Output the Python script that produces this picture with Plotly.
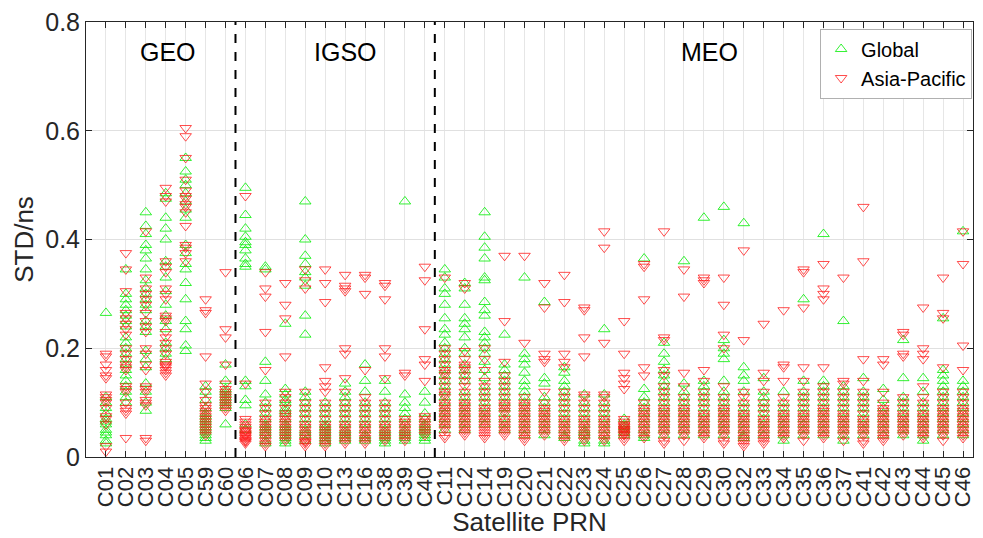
import plotly.graph_objects as go

categories = ["C01", "C02", "C03", "C04", "C05", "C59", "C60",
              "C06", "C07", "C08", "C09", "C10", "C13", "C16", "C38", "C39", "C40",
              "C11", "C12", "C14", "C19", "C20", "C21", "C22", "C23", "C24", "C25",
              "C26", "C27", "C28", "C29", "C30", "C32", "C33", "C34", "C35", "C36",
              "C37", "C41", "C42", "C43", "C44", "C45", "C46"]

global_std = [
    [0.265, 0.11, 0.10, 0.09, 0.08, 0.07, 0.065, 0.06, 0.05, 0.045, 0.04, 0.03, 0.025],  # C01
    [0.345, 0.3, 0.29, 0.28, 0.27, 0.26, 0.25, 0.24, 0.22, 0.21, 0.2, 0.19, 0.18, 0.17, 0.16, 0.15, 0.14, 0.13, 0.12, 0.11, 0.1],  # C02
    [0.45, 0.425, 0.41, 0.39, 0.38, 0.365, 0.345, 0.325, 0.31, 0.3, 0.29, 0.28, 0.27, 0.25, 0.24, 0.23, 0.195, 0.18, 0.165, 0.135, 0.12, 0.1, 0.085],  # C03
    [0.485, 0.475, 0.44, 0.42, 0.4, 0.36, 0.35, 0.33, 0.305, 0.28, 0.26, 0.25, 0.235, 0.21, 0.2, 0.19, 0.18],  # C04
    [0.55, 0.525, 0.51, 0.5, 0.485, 0.47, 0.455, 0.44, 0.39, 0.375, 0.355, 0.345, 0.32, 0.29, 0.25, 0.235, 0.205, 0.195],  # C05
    [0.13, 0.12, 0.105, 0.09, 0.08, 0.075, 0.07, 0.065, 0.06, 0.055, 0.05, 0.045, 0.04, 0.035, 0.03],  # C59
    [0.17, 0.14, 0.125, 0.12, 0.115, 0.11, 0.105, 0.1, 0.095, 0.09, 0.06],  # C60
    [0.495, 0.445, 0.42, 0.405, 0.395, 0.39, 0.38, 0.365, 0.355, 0.35, 0.14, 0.13, 0.105, 0.095, 0.06, 0.05],  # C06
    [0.35, 0.345, 0.175, 0.14, 0.115, 0.1, 0.09, 0.08, 0.07, 0.06, 0.055, 0.05, 0.045, 0.04, 0.03, 0.025],  # C07
    [0.245, 0.125, 0.115, 0.105, 0.1, 0.09, 0.085, 0.08, 0.07, 0.06, 0.055, 0.05, 0.045, 0.04, 0.035, 0.03, 0.025],  # C08
    [0.47, 0.4, 0.37, 0.355, 0.34, 0.33, 0.315, 0.26, 0.225, 0.12, 0.11, 0.1, 0.09, 0.08, 0.07, 0.06, 0.05, 0.045, 0.04, 0.03],  # C09
    [0.1, 0.09, 0.08, 0.07, 0.06, 0.055, 0.05, 0.045, 0.04, 0.035, 0.03, 0.025],  # C10
    [0.135, 0.12, 0.11, 0.1, 0.09, 0.08, 0.07, 0.06, 0.05, 0.045, 0.04, 0.035, 0.03],  # C13
    [0.17, 0.14, 0.12, 0.1, 0.09, 0.08, 0.07, 0.06, 0.05, 0.04, 0.035, 0.03],  # C16
    [0.14, 0.12, 0.1, 0.09, 0.08, 0.07, 0.06, 0.05, 0.045, 0.04, 0.035, 0.03, 0.025],  # C38
    [0.47, 0.115, 0.1, 0.09, 0.08, 0.07, 0.06, 0.05, 0.045, 0.04, 0.035, 0.03],  # C39
    [0.12, 0.1, 0.08, 0.07, 0.06, 0.055, 0.05, 0.045, 0.04, 0.035, 0.03],  # C40
    [0.345, 0.33, 0.31, 0.3, 0.28, 0.255, 0.235, 0.225, 0.21, 0.2, 0.19, 0.18, 0.17, 0.16, 0.15, 0.14, 0.13, 0.12, 0.11, 0.1, 0.09, 0.08, 0.07, 0.06, 0.05],  # C11
    [0.32, 0.31, 0.28, 0.255, 0.245, 0.235, 0.22, 0.2, 0.19, 0.17, 0.16, 0.15, 0.14, 0.12, 0.11, 0.1, 0.09, 0.08, 0.07, 0.06, 0.05],  # C12
    [0.45, 0.405, 0.385, 0.365, 0.33, 0.325, 0.285, 0.27, 0.26, 0.23, 0.22, 0.21, 0.2, 0.19, 0.175, 0.16, 0.145, 0.13, 0.12, 0.11, 0.1, 0.09, 0.08, 0.07, 0.06],  # C14
    [0.225, 0.17, 0.16, 0.15, 0.14, 0.13, 0.12, 0.11, 0.1, 0.09, 0.08, 0.07, 0.06, 0.05],  # C19
    [0.33, 0.19, 0.18, 0.17, 0.155, 0.14, 0.13, 0.12, 0.11, 0.1, 0.09, 0.08, 0.07, 0.06, 0.05, 0.04],  # C20
    [0.285, 0.145, 0.135, 0.11, 0.1, 0.09, 0.08, 0.07, 0.06, 0.05, 0.04],  # C21
    [0.165, 0.155, 0.14, 0.13, 0.12, 0.11, 0.1, 0.09, 0.08, 0.07, 0.06, 0.05, 0.04, 0.035],  # C22
    [0.115, 0.1, 0.09, 0.08, 0.07, 0.06, 0.05, 0.045, 0.04, 0.03, 0.025],  # C23
    [0.235, 0.115, 0.1, 0.09, 0.08, 0.07, 0.06, 0.05, 0.04, 0.03, 0.025],  # C24
    [0.07, 0.06, 0.055, 0.05, 0.045, 0.04],  # C25
    [0.365, 0.125, 0.11, 0.1, 0.09, 0.08, 0.07, 0.06, 0.05, 0.04, 0.035],  # C26
    [0.21, 0.19, 0.175, 0.16, 0.15, 0.14, 0.13, 0.12, 0.11, 0.1, 0.09, 0.08, 0.07, 0.06, 0.05, 0.04],  # C27
    [0.36, 0.135, 0.12, 0.11, 0.1, 0.09, 0.08, 0.07, 0.06, 0.05, 0.04],  # C28
    [0.44, 0.14, 0.13, 0.12, 0.11, 0.1, 0.09, 0.08, 0.07, 0.06, 0.05, 0.04],  # C29
    [0.46, 0.215, 0.2, 0.19, 0.18, 0.14, 0.12, 0.11, 0.1, 0.09, 0.08, 0.07, 0.06, 0.05, 0.04],  # C30
    [0.43, 0.165, 0.15, 0.14, 0.12, 0.1, 0.09, 0.08, 0.07, 0.06, 0.05, 0.04, 0.035],  # C32
    [0.145, 0.12, 0.11, 0.1, 0.09, 0.08, 0.07, 0.06, 0.05, 0.04],  # C33
    [0.12, 0.1, 0.09, 0.08, 0.07, 0.06, 0.05, 0.04, 0.03],  # C34
    [0.29, 0.14, 0.12, 0.11, 0.1, 0.09, 0.08, 0.07, 0.06, 0.05, 0.04],  # C35
    [0.41, 0.14, 0.13, 0.12, 0.11, 0.1, 0.09, 0.08, 0.07, 0.06, 0.05, 0.04],  # C36
    [0.25, 0.13, 0.12, 0.11, 0.1, 0.09, 0.08, 0.07, 0.06, 0.05, 0.04, 0.03],  # C37
    [0.145, 0.12, 0.11, 0.1, 0.09, 0.08, 0.07, 0.06, 0.05, 0.04],  # C41
    [0.125, 0.105, 0.09, 0.08, 0.07, 0.06, 0.05, 0.04],  # C42
    [0.215, 0.145, 0.11, 0.1, 0.09, 0.08, 0.07, 0.06, 0.05, 0.04],  # C43
    [0.145, 0.12, 0.1, 0.09, 0.08, 0.07, 0.06, 0.05, 0.04, 0.03],  # C44
    [0.255, 0.16, 0.15, 0.14, 0.13, 0.12, 0.11, 0.1, 0.09, 0.08, 0.07, 0.06, 0.05, 0.04],  # C45
    [0.415, 0.14, 0.13, 0.12, 0.11, 0.1, 0.09, 0.08, 0.07, 0.06, 0.05, 0.04],  # C46
]

asia_pacific_std = [
    [0.19, 0.185, 0.17, 0.16, 0.15, 0.145, 0.115, 0.11, 0.105, 0.1, 0.09, 0.075, 0.07, 0.06, 0.02, 0.01],  # C01
    [0.375, 0.345, 0.305, 0.265, 0.255, 0.245, 0.235, 0.225, 0.2, 0.19, 0.18, 0.17, 0.165, 0.16, 0.13, 0.125, 0.12, 0.1, 0.09, 0.085, 0.08, 0.035],  # C02
    [0.415, 0.33, 0.31, 0.3, 0.29, 0.28, 0.265, 0.25, 0.24, 0.23, 0.2, 0.19, 0.17, 0.16, 0.13, 0.125, 0.12, 0.105, 0.1, 0.095, 0.035, 0.03],  # C03
    [0.495, 0.48, 0.47, 0.36, 0.35, 0.34, 0.31, 0.3, 0.29, 0.26, 0.255, 0.25, 0.23, 0.22, 0.21, 0.2, 0.19, 0.175, 0.17, 0.168, 0.165, 0.16, 0.155, 0.15],  # C04
    [0.605, 0.59, 0.55, 0.51, 0.49, 0.48, 0.475, 0.465, 0.46, 0.45, 0.425, 0.39, 0.385, 0.375, 0.36],  # C05
    [0.29, 0.27, 0.265, 0.185, 0.135, 0.12, 0.105, 0.095, 0.09, 0.085, 0.08, 0.075, 0.07, 0.065, 0.06, 0.055, 0.05, 0.045, 0.04],  # C59
    [0.34, 0.235, 0.22, 0.17, 0.135, 0.125, 0.12, 0.115, 0.11, 0.105, 0.1, 0.095, 0.09, 0.085],  # C60
    [0.48, 0.135, 0.07, 0.065, 0.06, 0.055, 0.05, 0.048, 0.045, 0.042, 0.04, 0.038, 0.035, 0.032, 0.03, 0.028, 0.025],  # C06
    [0.34, 0.31, 0.295, 0.23, 0.16, 0.1, 0.09, 0.08, 0.07, 0.065, 0.06, 0.055, 0.05, 0.045, 0.04, 0.035, 0.03, 0.025, 0.02],  # C07
    [0.32, 0.28, 0.255, 0.185, 0.12, 0.11, 0.1, 0.09, 0.08, 0.075, 0.07, 0.065, 0.06, 0.055, 0.05, 0.045, 0.04, 0.035, 0.03],  # C08
    [0.345, 0.325, 0.31, 0.12, 0.1, 0.09, 0.08, 0.07, 0.06, 0.055, 0.05, 0.045, 0.04, 0.035, 0.03, 0.028, 0.025, 0.02],  # C09
    [0.345, 0.32, 0.285, 0.165, 0.14, 0.13, 0.12, 0.1, 0.09, 0.08, 0.07, 0.06, 0.055, 0.05, 0.045, 0.04, 0.035, 0.03, 0.025, 0.02],  # C10
    [0.335, 0.315, 0.31, 0.305, 0.2, 0.19, 0.145, 0.12, 0.1, 0.09, 0.08, 0.07, 0.06, 0.055, 0.05, 0.045, 0.04, 0.035, 0.03, 0.025],  # C13
    [0.335, 0.33, 0.3, 0.16, 0.11, 0.1, 0.09, 0.08, 0.07, 0.06, 0.055, 0.05, 0.045, 0.04, 0.035, 0.03, 0.025],  # C16
    [0.32, 0.315, 0.29, 0.2, 0.185, 0.145, 0.1, 0.09, 0.08, 0.07, 0.06, 0.055, 0.05, 0.045, 0.04, 0.035, 0.03],  # C38
    [0.155, 0.15, 0.07, 0.065, 0.06, 0.055, 0.05, 0.045, 0.04, 0.035, 0.03],  # C39
    [0.35, 0.325, 0.235, 0.18, 0.17, 0.14, 0.075, 0.07, 0.065, 0.06, 0.055, 0.05, 0.045, 0.04],  # C40
    [0.33, 0.2, 0.19, 0.18, 0.17, 0.16, 0.155, 0.15, 0.14, 0.13, 0.12, 0.115, 0.11, 0.1, 0.095, 0.09, 0.085, 0.08, 0.075, 0.07, 0.065, 0.06, 0.055, 0.05, 0.04, 0.035],  # C11
    [0.32, 0.31, 0.195, 0.18, 0.17, 0.165, 0.16, 0.15, 0.14, 0.13, 0.12, 0.11, 0.1, 0.095, 0.09, 0.085, 0.08, 0.075, 0.07, 0.065, 0.06, 0.055, 0.05, 0.045, 0.04],  # C12
    [0.2, 0.18, 0.16, 0.14, 0.13, 0.12, 0.11, 0.1, 0.09, 0.085, 0.08, 0.075, 0.07, 0.065, 0.06, 0.055, 0.05, 0.045, 0.04, 0.035],  # C14
    [0.37, 0.25, 0.175, 0.15, 0.14, 0.13, 0.12, 0.11, 0.1, 0.095, 0.09, 0.085, 0.08, 0.07, 0.065, 0.06, 0.055, 0.05, 0.045, 0.04],  # C19
    [0.37, 0.21, 0.11, 0.1, 0.095, 0.09, 0.085, 0.08, 0.075, 0.07, 0.065, 0.06, 0.055, 0.05, 0.045, 0.04, 0.035, 0.03],  # C20
    [0.32, 0.275, 0.19, 0.18, 0.175, 0.12, 0.1, 0.09, 0.085, 0.08, 0.075, 0.07, 0.065, 0.06, 0.055, 0.05, 0.045, 0.04],  # C21
    [0.335, 0.285, 0.19, 0.175, 0.165, 0.12, 0.11, 0.1, 0.09, 0.08, 0.07, 0.065, 0.06, 0.055, 0.05, 0.045, 0.04, 0.035, 0.03],  # C22
    [0.275, 0.27, 0.22, 0.185, 0.115, 0.11, 0.1, 0.09, 0.08, 0.07, 0.065, 0.06, 0.055, 0.05, 0.045, 0.04, 0.035, 0.03],  # C23
    [0.415, 0.385, 0.21, 0.115, 0.11, 0.1, 0.09, 0.08, 0.07, 0.065, 0.06, 0.055, 0.05, 0.045, 0.04, 0.035, 0.03],  # C24
    [0.25, 0.19, 0.155, 0.145, 0.135, 0.125, 0.07, 0.065, 0.06, 0.058, 0.055, 0.052, 0.05, 0.048, 0.045, 0.042, 0.04, 0.035, 0.03],  # C25
    [0.355, 0.35, 0.29, 0.165, 0.15, 0.1, 0.09, 0.085, 0.08, 0.075, 0.07, 0.065, 0.06, 0.055, 0.05, 0.045, 0.04, 0.035],  # C26
    [0.415, 0.22, 0.215, 0.16, 0.15, 0.13, 0.12, 0.11, 0.1, 0.09, 0.085, 0.08, 0.075, 0.07, 0.065, 0.06, 0.055, 0.05, 0.045, 0.04, 0.03, 0.025],  # C27
    [0.345, 0.295, 0.155, 0.13, 0.11, 0.1, 0.09, 0.085, 0.08, 0.075, 0.07, 0.065, 0.06, 0.055, 0.05, 0.045, 0.04, 0.03],  # C28
    [0.33, 0.325, 0.32, 0.16, 0.14, 0.12, 0.11, 0.1, 0.09, 0.08, 0.075, 0.07, 0.065, 0.06, 0.055, 0.05, 0.045, 0.04, 0.035],  # C29
    [0.33, 0.28, 0.225, 0.2, 0.13, 0.11, 0.1, 0.09, 0.085, 0.08, 0.075, 0.07, 0.065, 0.06, 0.055, 0.05, 0.045, 0.04, 0.03, 0.025],  # C30
    [0.38, 0.215, 0.12, 0.11, 0.1, 0.09, 0.08, 0.075, 0.07, 0.065, 0.06, 0.055, 0.05, 0.045, 0.04, 0.035, 0.03, 0.025, 0.02],  # C32
    [0.245, 0.155, 0.14, 0.12, 0.1, 0.09, 0.08, 0.07, 0.065, 0.06, 0.055, 0.05, 0.045, 0.04, 0.035, 0.03, 0.025],  # C33
    [0.27, 0.17, 0.165, 0.14, 0.11, 0.1, 0.09, 0.08, 0.075, 0.07, 0.065, 0.06, 0.055, 0.05, 0.045, 0.04, 0.035],  # C34
    [0.345, 0.34, 0.275, 0.165, 0.14, 0.12, 0.11, 0.1, 0.09, 0.08, 0.075, 0.07, 0.065, 0.06, 0.055, 0.05, 0.045, 0.04, 0.03],  # C35
    [0.355, 0.31, 0.3, 0.29, 0.165, 0.13, 0.12, 0.11, 0.1, 0.09, 0.085, 0.08, 0.075, 0.07, 0.065, 0.06, 0.055, 0.05, 0.045, 0.04, 0.035],  # C36
    [0.33, 0.14, 0.135, 0.12, 0.11, 0.1, 0.09, 0.08, 0.075, 0.07, 0.065, 0.06, 0.055, 0.05, 0.045, 0.04, 0.03],  # C37
    [0.46, 0.36, 0.18, 0.14, 0.12, 0.11, 0.1, 0.09, 0.08, 0.07, 0.065, 0.06, 0.055, 0.05, 0.045, 0.04, 0.03, 0.025],  # C41
    [0.18, 0.17, 0.12, 0.1, 0.09, 0.085, 0.08, 0.075, 0.07, 0.065, 0.06, 0.055, 0.05, 0.045, 0.04, 0.035, 0.03],  # C42
    [0.23, 0.225, 0.19, 0.185, 0.11, 0.1, 0.09, 0.08, 0.075, 0.07, 0.065, 0.06, 0.055, 0.05, 0.045, 0.04],  # C43
    [0.275, 0.2, 0.19, 0.18, 0.13, 0.11, 0.1, 0.09, 0.08, 0.075, 0.07, 0.065, 0.06, 0.055, 0.05, 0.045, 0.04, 0.035],  # C44
    [0.33, 0.265, 0.255, 0.165, 0.12, 0.11, 0.1, 0.09, 0.085, 0.08, 0.075, 0.07, 0.065, 0.06, 0.055, 0.05, 0.045, 0.04, 0.03],  # C45
    [0.415, 0.355, 0.205, 0.16, 0.12, 0.11, 0.1, 0.09, 0.085, 0.08, 0.075, 0.07, 0.065, 0.06, 0.055, 0.05, 0.045, 0.04, 0.035],  # C46
]

group_names = ["GEO", "IGSO", "MEO"]
group_sizes = [7, 10, 27]
group_label_x = [3.1, 12.0, 30.3]

FONT = "Liberation Sans, Arial, sans-serif"


def flatten(values):
    xs, ys = [], []
    for cat, vals in zip(categories, values):
        for v in vals:
            xs.append(cat)
            ys.append(v)
    return xs, ys


gx, gy = flatten(global_std)
ax_, ay = flatten(asia_pacific_std)

fig = go.Figure()
fig.add_trace(go.Scatter(
    x=gx, y=gy, mode="markers", name="Global",
    marker=dict(symbol="triangle-up-open", size=10, color="#00ee00",
                line=dict(width=1, color="#00ee00"), opacity=0.8),
))
fig.add_trace(go.Scatter(
    x=ax_, y=ay, mode="markers", name="Asia-Pacific",
    marker=dict(symbol="triangle-down-open", size=10, color="#ff1010",
                line=dict(width=1, color="#ff1010"), opacity=0.75),
))

shapes = []
annotations = []
start = 0
for i, (name, size) in enumerate(zip(group_names, group_sizes)):
    end = start + size
    if i < len(group_names) - 1:
        shapes.append(dict(type="line", xref="x", yref="paper",
                           x0=end - 0.5, x1=end - 0.5, y0=0, y1=1,
                           line=dict(color="black", width=2, dash="dash")))
    annotations.append(dict(x=group_label_x[i], y=0.745, xref="x", yref="y",
                            text=name, showarrow=False,
                            font=dict(family=FONT, size=25, color="black")))
    start = end

fig.update_layout(
    width=983, height=538,
    margin=dict(l=86, r=8, t=19, b=81),
    paper_bgcolor="white", plot_bgcolor="white",
    font=dict(family=FONT, size=20, color="#262626"),
    shapes=shapes, annotations=annotations,
    showlegend=True,
    legend=dict(x=0.999, y=0.985, xanchor="right", yanchor="top",
                bgcolor="white", bordercolor="#b0b0b0", borderwidth=1,
                font=dict(family=FONT, size=20, color="black"),
                tracegroupgap=0),
)
fig.update_xaxes(
    type="category", categoryorder="array", categoryarray=categories,
    range=[-1, 43.5], tickangle=-90, tickmode="linear", tick0=0, dtick=1,
    tickfont=dict(family=FONT, size=22, color="#262626"),
    showgrid=True, gridcolor="#e6e6e6", gridwidth=1,
    showline=True, linecolor="#262626", linewidth=1, mirror="ticks",
    ticks="inside", ticklen=6, tickcolor="#262626",
    title=dict(text="Satellite PRN", font=dict(family=FONT, size=26, color="#262626"), standoff=2),
    zeroline=False,
)
fig.update_yaxes(
    range=[0, 0.8], tickvals=[0, 0.2, 0.4, 0.6, 0.8],
    ticktext=["0", "0.2", "0.4", "0.6", "0.8"],
    tickfont=dict(family=FONT, size=25, color="#262626"),
    showgrid=True, gridcolor="#e0e0e0", gridwidth=1,
    showline=True, linecolor="#262626", linewidth=1, mirror="ticks",
    ticks="inside", ticklen=6, tickcolor="#262626",
    title=dict(text="STD/ns", font=dict(family=FONT, size=26, color="#262626"), standoff=4),
    zeroline=False,
)

fig.write_html("out.html")
